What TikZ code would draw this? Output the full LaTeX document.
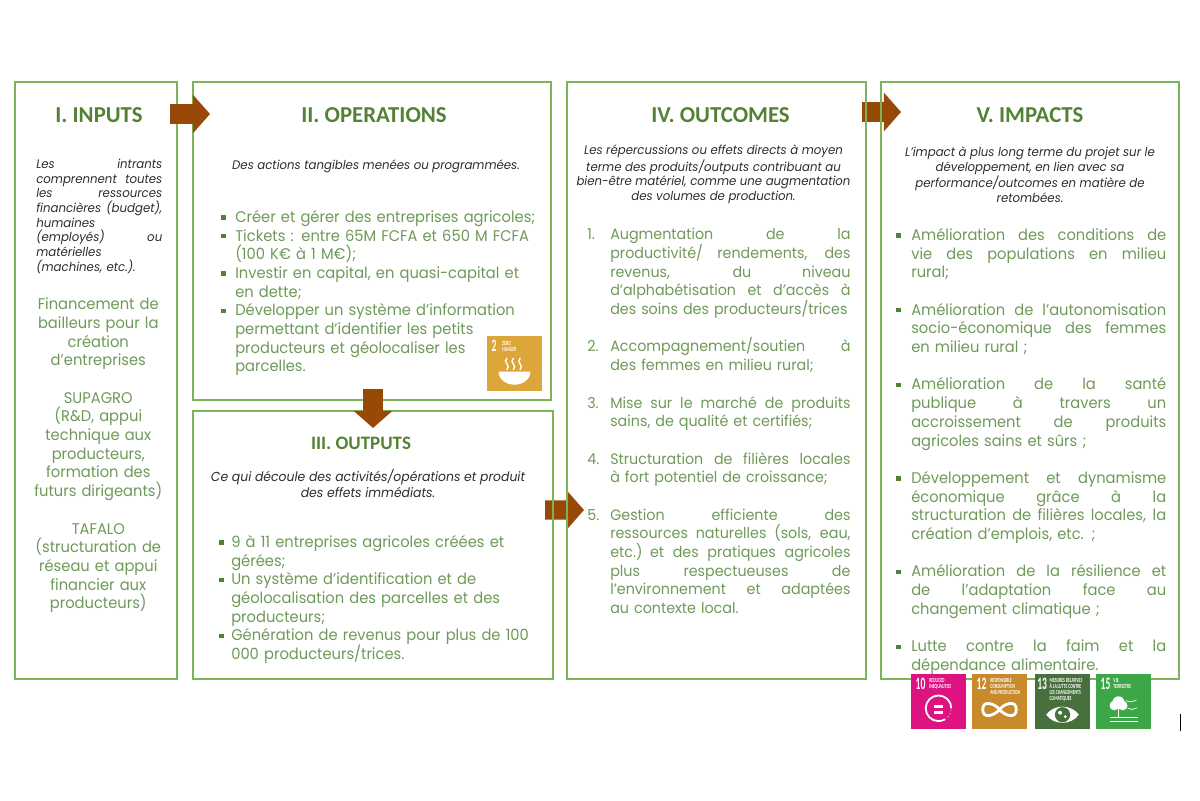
\documentclass[tikz,border=0pt]{standalone}
\usepackage{fontspec}
\setmainfont{Poppins}[FakeStretch=0.95]
\newfontfamily\headfont{Carlito}
\newfontfamily\tilefont{Carlito}[FakeStretch=0.62]
\newfontfamily\numfont{Carlito}[FakeStretch=0.55]
\usetikzlibrary{arrows.meta, positioning, calc, backgrounds}
\definecolor{frame}{RGB}{125, 180, 90}
\definecolor{headgreen}{RGB}{84, 130, 53}
\definecolor{bodygreen}{RGB}{110, 153, 88}
\definecolor{bulletgreen}{RGB}{84, 130, 53}
\definecolor{deskblack}{RGB}{45, 45, 45}
\definecolor{flowbrown}{RGB}{152, 72, 7}
\definecolor{sdgtwo}{RGB}{221, 166, 58}
\definecolor{sdgten}{RGB}{222, 18, 128}
\definecolor{sdgtwelve}{RGB}{200, 138, 42}
\definecolor{sdgthirteen}{RGB}{72, 112, 60}
\definecolor{sdgfifteen}{RGB}{60, 166, 72}
\newlength{\markw}
\newcommand{\sqb}{\textcolor{bulletgreen}{\rule[0.18em]{3pt}{3pt}}}
\newcommand{\jst}[2]{\hbox to \hsize{\hbox to \markw{#1\hss}\spaceskip=0.25em plus 1fil minus 0.1em\relax\hbox to \dimexpr\hsize-\markw\relax{#2}}\par}
\newcommand{\lft}[2]{\hbox to \hsize{\hbox to \markw{#1\hss}#2\hss}\par}
\newcommand{\ctr}[1]{\hbox to \hsize{\hss#1\hss}\par}
\newcommand{\gp}{\vskip 13.3pt}
\tikzset{
  phasebox/.style={draw=frame, line width=1.2pt, outer sep=0pt, inner sep=0pt, anchor=north west},
  phasehead/.style={font=\headfont\bfseries\fontsize{16.2}{18}\selectfont, text=headgreen, inner sep=0pt},
  deskline/.style={font=\itshape\fontsize{8.8}{10.4}\selectfont, text=deskblack, inner sep=0pt, anchor=north west},
  listtext/.style={font=\fontsize{11}{13.3}\selectfont, text=bodygreen, inner sep=0pt, anchor=north west,
    execute at begin node={\markw=#1\relax\lineskiplimit=-100pt\relax}},
  flowarrow/.style={draw=flowbrown, line width=0.48cm, -{Triangle[width=0.95cm,length=0.43cm]}},
  sdgtile/.style={minimum size=1.375cm, inner sep=0pt, outer sep=0pt, anchor=north west, fill=#1},
  sdgnum/.style={font=\numfont\bfseries\fontsize{12.4}{12.4}\selectfont, text=white, inner sep=0pt, anchor=base west},
  sdglab/.style={font=\tilefont\bfseries\fontsize{4.4}{4.3}\selectfont, text=white, inner sep=0pt, anchor=north west, align=left},
  sdgline/.style={draw=white, line width=1pt, line cap=round}
}
\begin{document}
\begin{tikzpicture}
  \useasboundingbox (0,0) rectangle (30,-20);
  \coordinate (origin) at (0.375,-2.05);
  \node[phasebox, minimum width=4.05cm, minimum height=14.925cm] (inbox) at (origin) {};
  \node[phasebox, minimum width=8.95cm, minimum height=7.95cm, below right=0cm and 0.4cm of inbox.north east] (opbox) {};
  \node[phasebox, minimum width=9cm, minimum height=6.7cm, below right=0.275cm and 0cm of opbox.south west] (outbox) {};
  \node[phasebox, minimum width=7.475cm, minimum height=14.925cm, below right=0cm and 0.4cm of opbox.north east] (oucbox) {};
  \node[phasebox, minimum width=7.45cm, minimum height=14.925cm, below right=0cm and 0.375cm of oucbox.north east] (impbox) {};

  \node[phasehead] (inhead) at ($(inbox.north)+(0.075,-0.82)$) {I. INPUTS};
  \node[phasehead] (ophead) at ($(opbox.north)+(0.05,-0.82)$) {II. OPERATIONS};
  \node[phasehead, font=\headfont\bfseries\fontsize{13.5}{15}\selectfont] (outhead) at ($(outbox.north)+(-0.3,-0.8)$) {III. OUTPUTS};
  \node[phasehead] (ouchead) at ($(oucbox.north)+(0.1,-0.82)$) {IV. OUTCOMES};
  \node[phasehead] (imphead) at ($(impbox.north)+(0,-0.82)$) {V. IMPACTS};

  \node[deskline, text width=3.15cm, below right=1.925cm and 0.525cm of inbox.north west, execute at begin node={\markw=0pt\lineskiplimit=-100pt\relax}] (indesk) {%
    \jst{}{Les intrants}\jst{}{comprennent toutes}\jst{}{les ressources}\jst{}{financières (budget),}
    \lft{}{humaines}\jst{}{(employés) ou}\lft{}{matérielles}\lft{}{(machines, etc.).}};
  \node[listtext=0pt, text width=4.05cm, below=0.6cm of indesk.south, anchor=north, xshift=-0.025cm] (inlist) {%
    \ctr{Financement de}\ctr{bailleurs pour la}\ctr{création}\ctr{d’entreprises}\gp
    \ctr{SUPAGRO}\ctr{(R\&D, appui}\ctr{technique aux}\ctr{producteurs,}\ctr{formation des}\ctr{futurs dirigeants)}\gp
    \ctr{TAFALO}\ctr{(structuration de}\ctr{réseau et appui}\ctr{financier aux}\ctr{producteurs)}};

  \node[deskline, anchor=north, below=1.95cm of opbox.north, xshift=0.1cm] (opdesk) {Des actions tangibles menées ou programmées.};
  \node[listtext=0.35cm, text width=7.8cm, below right=3.2cm and 0.7cm of opbox.north west] (oplist) {%
    \lft{\sqb}{Créer et gérer des entreprises agricoles;}
    \lft{\sqb}{Tickets : entre 65M FCFA et 650 M FCFA}
    \lft{}{(100 K€ à 1 M€);}
    \lft{\sqb}{Investir en capital, en quasi-capital et}
    \lft{}{en dette;}
    \lft{\sqb}{Développer un système d’information}
    \lft{}{permettant d’identifier les petits}
    \lft{}{producteurs et géolocaliser les}
    \lft{}{parcelles.}};

  \node[deskline, font=\itshape\fontsize{9.3}{11.4}\selectfont, align=center, anchor=north, below=1.45cm of outbox.north, xshift=-0.125cm] (outdesk) {%
    Ce qui découle des activités/opérations et produit\\des effets immédiats.};
  \node[listtext=0.3cm, text width=8.1cm, below right=3.1cm and 0.65cm of outbox.north west] (outlist) {%
    \lft{\sqb}{9 à 11 entreprises agricoles créées et}
    \lft{}{gérées;}
    \lft{\sqb}{Un système d’identification et de}
    \lft{}{géolocalisation des parcelles et des}
    \lft{}{producteurs;}
    \lft{\sqb}{Génération de revenus pour plus de 100}
    \lft{}{000 producteurs/trices.}};

  \node[deskline, align=center, anchor=north, below=1.575cm of oucbox.north, xshift=-0.075cm] (oucdesk) {%
    Les répercussions ou effets directs à moyen\\terme des produits/outputs contribuant au\\
    bien-être matériel, comme une augmentation\\des volumes de production.};
  \node[listtext=0.575cm, font=\fontsize{10.7}{13.3}\selectfont, text width=6.58cm, below right=3.65cm and 0.5cm of oucbox.north west] (ouclist) {%
    \jst{1.}{Augmentation de la}
    \jst{}{productivité/ rendements, des}
    \jst{}{revenus, du niveau}
    \jst{}{d’alphabétisation et d’accès à}
    \lft{}{des soins des producteurs/trices}\gp
    \jst{2.}{Accompagnement/soutien à}
    \lft{}{des femmes en milieu rural;}\gp
    \jst{3.}{Mise sur le marché de produits}
    \lft{}{sains, de qualité et certifiés;}\gp
    \jst{4.}{Structuration de filières locales}
    \lft{}{à fort potentiel de croissance;}\gp
    \jst{5.}{Gestion efficiente des}
    \jst{}{ressources naturelles (sols, eau,}
    \jst{}{etc.) et des pratiques agricoles}
    \jst{}{plus respectueuses de}
    \jst{}{l’environnement et adaptées}
    \lft{}{au contexte local.}};

  \node[deskline, align=center, anchor=north, below=1.625cm of impbox.north, xshift=0cm] (impdesk) {%
    L’impact à plus long terme du projet sur le\\développement, en lien avec sa\\
    performance/outcomes en matière de\\retombées.};
  \node[listtext=0.375cm, text width=6.75cm, below right=3.65cm and 0.375cm of impbox.north west] (implist) {%
    \jst{\sqb}{Amélioration des conditions de}
    \jst{}{vie des populations en milieu}
    \lft{}{rural;}\gp
    \jst{\sqb}{Amélioration de l’autonomisation}
    \jst{}{socio-économique des femmes}
    \lft{}{en milieu rural ;}\gp
    \jst{\sqb}{Amélioration de la santé}
    \jst{}{publique à travers un}
    \jst{}{accroissement de produits}
    \lft{}{agricoles sains et sûrs ;}\gp
    \jst{\sqb}{Développement et dynamisme}
    \jst{}{économique grâce à la}
    \jst{}{structuration de filières locales, la}
    \lft{}{création d’emplois, etc. ;}\gp
    \jst{\sqb}{Amélioration de la résilience et}
    \jst{}{de l’adaptation face au}
    \lft{}{changement climatique ;}\gp
    \jst{\sqb}{Lutte contre la faim et la}
    \lft{}{dépendance alimentaire.}};

  \coordinate (flowa) at ($(inbox.north east)+(-0.175,-0.8)$);
  \coordinate (flowb) at ($(opbox.north west)+(0.425,-0.8)$);
  \coordinate (flowc) at ($(opbox.south west)+(4.5,0.275)$);
  \coordinate (flowd) at ($(outbox.north west)+(4.5,-0.425)$);
  \coordinate (flowe) at ($(outbox.north east)+(-0.2,-2.475)$);
  \coordinate (flowf) at ($(oucbox.north west)+(0.425,-10.7)$);
  \coordinate (flowg) at ($(oucbox.north east)+(-0.1,-0.75)$);
  \coordinate (flowh) at ($(impbox.north west)+(0.5,-0.75)$);
  \draw[flowarrow] (flowa) -- (flowb);
  \draw[flowarrow] (flowc) -- (flowd);
  \begin{scope}[on background layer]
    \draw[flowarrow] (flowe) -- (flowf);
    \draw[flowarrow] (flowg) -- (flowh);
  \end{scope}

  \node[sdgtile=sdgtwo, below right=6.35cm and 7.35cm of opbox.north west] (goaltwo) {};
  \node[sdgnum] (twonum) at ($(goaltwo.north west)+(0.11,-0.39)$) {2};
  \node[sdglab] (twolab) at ($(goaltwo.north west)+(0.38,-0.12)$) {ZERO\\HUNGER};
  \fill[white] ($(goaltwo.center)+(-0.4,-0.2)$) arc[start angle=180, end angle=360, x radius=0.4, y radius=0.33] -- cycle;
  \foreach \dx in {-0.19,-0.03,0.14}
    \draw[sdgline] ($(goaltwo.center)+(\dx,0.13)$) .. controls +(-0.12,-0.1) and +(0.12,0.1) .. ($(goaltwo.center)+(\dx,-0.15)$);

  \node[sdgtile=sdgten, below right=14.8cm and 0.75cm of impbox.north west] (goalten) {};
  \node[sdgtile=sdgtwelve, right=0.15cm of goalten.east, anchor=west] (goaltwelve) {};
  \node[sdgtile=sdgthirteen, right=0.2cm of goaltwelve.east, anchor=west] (goalthirteen) {};
  \node[sdgtile=sdgfifteen, right=0.15cm of goalthirteen.east, anchor=west] (goalfifteen) {};

  \node[sdgnum] (tennum) at ($(goalten.north west)+(0.11,-0.39)$) {10};
  \node[sdglab] (tenlab) at ($(goalten.north west)+(0.45,-0.1)$) {REDUCED\\INEQUALITIES};
  \draw[white, line width=1.3pt] ($(goalten.center)+(0.32,-0.17)$) arc[start angle=0, end angle=300, radius=0.32];
  \draw[white, line width=0.6pt, dotted] ($(goalten.center)+(0.16,-0.447)$) arc[start angle=300, end angle=360, radius=0.32];
  \fill[white] ($(goalten.center)+(-0.12,-0.165)$) rectangle ($(goalten.center)+(0.12,-0.085)$);
  \fill[white] ($(goalten.center)+(-0.12,-0.31)$) rectangle ($(goalten.center)+(0.12,-0.23)$);

  \node[sdgnum] (twelvenum) at ($(goaltwelve.north west)+(0.11,-0.39)$) {12};
  \node[sdglab] (twelvelab) at ($(goaltwelve.north west)+(0.45,-0.1)$) {RESPONSIBLE\\CONSUMPTION\\AND PRODUCTION};
  \coordinate (infc) at ($(goaltwelve.center)+(0,-0.2)$);
  \coordinate (infr) at ($(goaltwelve.center)+(0.42,-0.2)$);
  \coordinate (infl) at ($(goaltwelve.center)+(-0.42,-0.2)$);
  \draw[white, line width=2pt] (infc) .. controls +(0.12,0.15) and +(0,0.25) .. (infr)
    .. controls +(0,-0.25) and +(0.12,-0.15) .. (infc)
    .. controls +(-0.12,0.15) and +(0,0.25) .. (infl)
    .. controls +(0,-0.25) and +(-0.12,-0.15) .. (infc);

  \node[sdgnum] (thirnum) at ($(goalthirteen.north west)+(0.05,-0.39)$) {13};
  \node[sdglab] (thirlab) at ($(goalthirteen.north west)+(0.36,-0.1)$) {MESURES RELATIVES\\À LA LUTTE CONTRE\\LES CHANGEMENTS\\CLIMATIQUES};
  \coordinate (eyel) at ($(goalthirteen.center)+(-0.41,-0.33)$);
  \coordinate (eyer) at ($(goalthirteen.center)+(0.41,-0.33)$);
  \fill[white] (eyel) .. controls +(0.2,0.27) and +(-0.2,0.27) .. (eyer)
    .. controls +(-0.2,-0.27) and +(0.2,-0.27) .. (eyel);
  \fill[sdgthirteen] ($(goalthirteen.center)+(0,-0.33)$) circle[radius=0.19];
  \fill[white] ($(goalthirteen.center)+(-0.06,-0.28)$) circle[radius=0.05];
  \fill[white] ($(goalthirteen.center)+(0.07,-0.38)$) circle[radius=0.04];

  \node[sdgnum] (fifnum) at ($(goalfifteen.north west)+(0.11,-0.39)$) {15};
  \node[sdglab] (fiflab) at ($(goalfifteen.north west)+(0.43,-0.1)$) {VIE\\TERRESTRE};
  \fill[white] ($(goalfifteen.center)+(-0.125,-0.02)$) circle[radius=0.15];
  \fill[white] ($(goalfifteen.center)+(-0.02,-0.1)$) circle[radius=0.12];
  \fill[white] ($(goalfifteen.center)+(-0.23,-0.1)$) circle[radius=0.12];
  \draw[white, line width=0.8pt] ($(goalfifteen.center)+(-0.125,-0.15)$) -- ($(goalfifteen.center)+(-0.125,-0.38)$);
  \draw[sdgline, line width=0.8pt] ($(goalfifteen.center)+(-0.33,-0.39)$) -- ($(goalfifteen.center)+(0.35,-0.39)$);
  \draw[sdgline, line width=0.8pt] ($(goalfifteen.center)+(-0.33,-0.49)$) -- ($(goalfifteen.center)+(0.35,-0.49)$);
  \draw[sdgline, line width=0.5pt] ($(goalfifteen.center)+(0.06,0.02)$) -- ($(goalfifteen.center)+(0.18,-0.01)$) -- ($(goalfifteen.center)+(0.32,0.03)$);
  \draw[sdgline, line width=0.5pt] ($(goalfifteen.center)+(0.1,-0.16)$) -- ($(goalfifteen.center)+(0.2,-0.2)$) -- ($(goalfifteen.center)+(0.34,-0.16)$);

  \coordinate (ticka) at (29.5,-17.85);
  \coordinate (tickb) at (29.5,-18.28);
  \draw[black, line width=0.7pt] (ticka) -- (tickb);
\end{tikzpicture}
\end{document}
